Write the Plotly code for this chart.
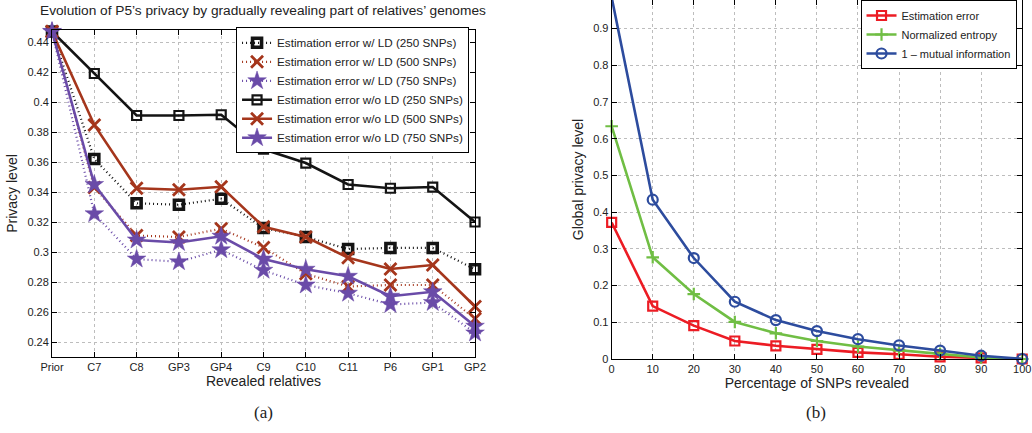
import plotly.graph_objects as go

# ---------------- data ----------------
relatives = ["Prior", "C7", "C8", "GP3", "GP4", "C9", "C10", "C11", "P6", "GP1", "GP2"]

ld_250 = [0.447, 0.362, 0.3325, 0.3315, 0.3355, 0.316, 0.310, 0.302, 0.3027, 0.3027, 0.2885]
ld_500 = [0.447, 0.343, 0.311, 0.3100, 0.3155, 0.303, 0.2855, 0.277, 0.278, 0.278, 0.2555]
ld_750 = [0.447, 0.3255, 0.2953, 0.2935, 0.3015, 0.2878, 0.278, 0.2725, 0.2650, 0.2663, 0.246]
nold_250 = [0.447, 0.419, 0.391, 0.391, 0.3915, 0.3685, 0.3593, 0.345, 0.3425, 0.3433, 0.320]
nold_500 = [0.447, 0.3847, 0.3425, 0.3415, 0.3435, 0.3168, 0.3100, 0.2962, 0.2887, 0.2913, 0.2637]
nold_750 = [0.447, 0.345, 0.308, 0.3063, 0.3105, 0.2953, 0.2885, 0.2838, 0.2705, 0.2735, 0.2505]

left_names = [
    "Estimation error w/ LD (250 SNPs)",
    "Estimation error w/ LD (500 SNPs)",
    "Estimation error w/ LD (750 SNPs)",
    "Estimation error w/o LD (250 SNPs)",
    "Estimation error w/o LD (500 SNPs)",
    "Estimation error w/o LD (750 SNPs)",
]

pct_revealed = [0, 10, 20, 30, 40, 50, 60, 70, 80, 90, 100]
est_error = [0.372, 0.144, 0.091, 0.049, 0.036, 0.026, 0.018, 0.013, 0.006, 0.003, 0.0]
norm_entropy = [0.634, 0.277, 0.177, 0.101, 0.070, 0.049, 0.034, 0.023, 0.014, 0.004, 0.0]
one_minus_mi = [0.985, 0.434, 0.275, 0.156, 0.106, 0.076, 0.054, 0.037, 0.023, 0.009, 0.0]
right_names = ["Estimation error", "Normalized entropy", "1 \u2013 mutual information"]

left_yticks = [0.24, 0.26, 0.28, 0.30, 0.32, 0.34, 0.36, 0.38, 0.40, 0.42, 0.44]
left_yticktext = ["0.24", "0.26", "0.28", "0.3", "0.32", "0.34", "0.36", "0.38", "0.4", "0.42", "0.44"]
right_yticks = [0, 0.1, 0.2, 0.3, 0.4, 0.5, 0.6, 0.7, 0.8, 0.9]
right_yticktext = ["0", "0.1", "0.2", "0.3", "0.4", "0.5", "0.6", "0.7", "0.8", "0.9"]
right_xticks = [0, 10, 20, 30, 40, 50, 60, 70, 80, 90, 100]

# ---------------- styles ----------------
BLACK = "#141414"
BROWN = "#A5361C"
PURPLE = "#6A4BA8"
RED = "#EC1C24"
GREEN = "#70BE44"
BLUE = "#2D4C9E"
FONT = "Liberation Sans"

fig = go.Figure()

left_series = [ld_250, ld_500, ld_750, nold_250, nold_500, nold_750]
left_colors = [BLACK, BROWN, PURPLE, BLACK, BROWN, PURPLE]
left_symbols = ["square-open", "x-thin-open", "star", "square-open", "x-thin-open", "star"]
left_sizes = [9, 12, 14, 9, 12, 14]
left_mlw = [3.6, 2.8, 0.5, 2.2, 2.8, 0.5]

for i, (vals, col, sym, sz, mlw, nm) in enumerate(
        zip(left_series, left_colors, left_symbols, left_sizes, left_mlw, left_names)):
    dotted = i < 3
    fig.add_trace(go.Scatter(
        x=relatives, y=vals, name=nm, mode="lines+markers",
        line=dict(color=col, width=2.2 if dotted else 2.6,
                  dash="1px,3px" if dotted else "solid"),
        marker=dict(symbol=sym, size=sz, color=col, line=dict(color=col, width=mlw)),
        xaxis="x", yaxis="y", legend="legend", cliponaxis=False,
    ))

for vals, col, sym, sz, nm in zip(
        [est_error, norm_entropy, one_minus_mi], [RED, GREEN, BLUE],
        ["square-open", "cross-thin-open", "circle-open"], [9, 9, 10], right_names):
    fig.add_trace(go.Scatter(
        x=pct_revealed, y=vals, name=nm, mode="lines+markers",
        line=dict(color=col, width=2.6),
        marker=dict(symbol=sym, size=sz, color=col, line=dict(color=col, width=2.2)),
        xaxis="x2", yaxis="y2", legend="legend2", cliponaxis=False,
    ))

axis_common = dict(
    showline=True, linecolor="black", linewidth=1, mirror="ticks",
    ticks="inside", ticklen=5, tickcolor="black", automargin=False,
    showgrid=True, gridcolor="#bdbdbd", griddash="dot", gridwidth=1,
    zeroline=False, tickfont=dict(family=FONT, size=11, color="#222"),
)

fig.update_layout(
    width=1032, height=433,
    margin=dict(l=0, r=0, t=0, b=0, autoexpand=False),
    paper_bgcolor="white", plot_bgcolor="white",
    font=dict(family=FONT, color="#222"),
    showlegend=True,
    xaxis=dict(domain=[0.0504, 0.4603], type="category", range=[0, 10],
               title=dict(text="Revealed relatives", font=dict(family=FONT, size=14), standoff=2),
               **axis_common),
    yaxis=dict(domain=[0.1755, 0.9307], range=[0.23, 0.448],
               tickvals=left_yticks, ticktext=left_yticktext,
               title=dict(text="Privacy level", font=dict(family=FONT, size=14), standoff=6),
               **axis_common),
    xaxis2=dict(domain=[0.5927, 0.9905], range=[0, 100], tickvals=right_xticks,
                anchor="y2",
                title=dict(text="Percentage of SNPs revealed", font=dict(family=FONT, size=14), standoff=2),
                **axis_common),
    yaxis2=dict(domain=[0.1709, 1.0], range=[0, 0.978], anchor="x2",
                tickvals=right_yticks, ticktext=right_yticktext,
                title=dict(text="Global privacy level", font=dict(family=FONT, size=14), standoff=6),
                **axis_common),
    legend=dict(x=0.4545, xanchor="right", y=0.937, yanchor="top",
                bgcolor="white", bordercolor="black", borderwidth=1,
                font=dict(family=FONT, size=11.7, color="#222"), tracegroupgap=0,
                itemwidth=30),
    legend2=dict(x=0.985, xanchor="right", y=1.0, yanchor="top",
                 bgcolor="white", bordercolor="black", borderwidth=1,
                 font=dict(family=FONT, size=11, color="#222"), tracegroupgap=0,
                 itemwidth=30),
    annotations=[
        dict(text="Evolution of P5\u2019s privacy by gradually revealing part of relatives\u2019 genomes",
             x=0.255, y=1 - 10 / 433, xref="paper", yref="paper", showarrow=False,
             xanchor="center", yanchor="middle", font=dict(family=FONT, size=13.7, color="#222")),
        dict(text="(a)", x=263 / 1032, y=1 - 412 / 433, xref="paper", yref="paper", showarrow=False,
             xanchor="center", yanchor="middle", font=dict(family="Liberation Serif", size=17, color="#222")),
        dict(text="(b)", x=816 / 1032, y=1 - 412 / 433, xref="paper", yref="paper", showarrow=False,
             xanchor="center", yanchor="middle", font=dict(family="Liberation Serif", size=17, color="#222")),
    ],
)

fig.write_html(
    "out.html",
    config={"displayModeBar": False},
    post_script="document.body.style.margin='0';document.body.style.overflow='hidden';",
)
